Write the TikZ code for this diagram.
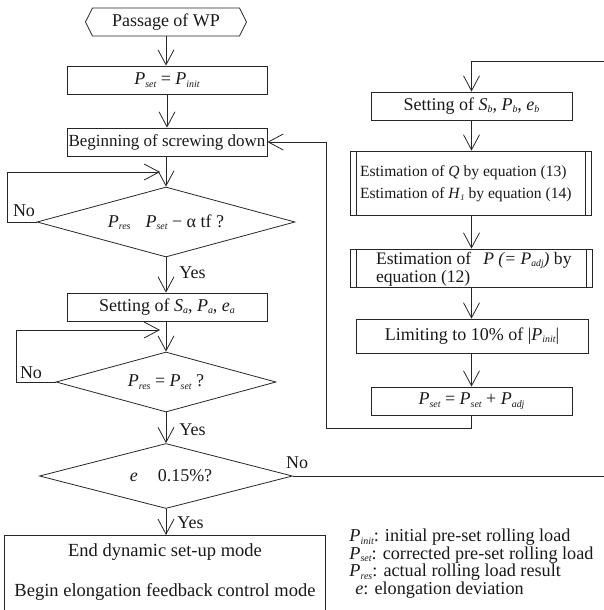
\documentclass[tikz,border=0pt]{standalone}
\usepackage{fontspec}
\setmainfont{Liberation Serif}
\usetikzlibrary{arrows.meta,shapes.geometric,shapes.symbols,calc}
\newcommand{\sbs}[1]{\raisebox{-0.3ex}{\scalebox{0.55}{\itshape #1}}}
\newcommand{\PP}[1]{\textit{P}\sbs{#1}}
\begin{document}
\begin{tikzpicture}[x=1pt,y=-1pt,
  line width=0.8pt, draw=black!85,
  every node/.style={font=\fontsize{18}{20}\selectfont, inner sep=0pt, text=black!90},
  proc/.style={draw=black!85, rectangle, line width=0.8pt},
  dec/.style={draw=black!85, diamond, line width=0.8pt},
  arr/.style={-{Straight Barb[length=15pt,width=16pt]}},
  small/.style={font=\fontsize{15.6}{22}\selectfont},
  legline/.style={anchor=base west, font=\fontsize{18.2}{18}\selectfont, text height=12.5pt, text depth=3.5pt}]
\useasboundingbox (0,0) rectangle (604,610);

% left column
\node[draw=black!85, signal, signal to=west and east, signal pointer angle=127,
      minimum width=161pt, minimum height=28pt] (h) at (166,22) {Passage of WP};
\node[proc, minimum width=200pt, minimum height=28pt] (pi) at (167,80) {\PP{set} = \PP{init}};
\node[proc, minimum width=200pt, minimum height=28pt, font=\fontsize{17}{20}\selectfont] (bg) at (167,142) {Beginning of screwing down};
\node[dec, minimum width=258pt, minimum height=70pt] (d1) at (166,222) {};
\node (t1) at (166,222) {\PP{res}\hspace{15pt}\PP{set} − α tf ?};
\node[proc, minimum width=200pt, minimum height=28pt] (sa) at (167,307) {Setting of \textit{S}\sbs{a}, \textit{P}\sbs{a}, \textit{e}\sbs{a}};
\node[dec, minimum width=220pt, minimum height=60pt] (d2) at (166,382) {};
\node (t2) at (166,382) {\PP{res} = \PP{set} ?};
\node[dec, minimum width=253pt, minimum height=65pt] (d3) at (166,476) {};
\node (t3) at (171,476) {\textit{e}\hspace{20pt}0.15\%?};
\node[proc, minimum width=321pt, minimum height=80pt, anchor=north] (en) at (164.5,535) {};
\node[font=\fontsize{18.5}{20}\selectfont] (en1) at (165,552) {End dynamic set-up mode};
\node[font=\fontsize{18.5}{20}\selectfont] (en2) at (165,592) {Begin elongation feedback control mode};

% right column
\node[proc, minimum width=201pt, minimum height=28pt] (sb) at (471.5,106) {Setting of \textit{S}\sbs{b}, \textit{P}\sbs{b}, \textit{e}\sbs{b}};
\node[proc, minimum width=241pt, minimum height=64pt] (e1) at (470.5,183) {};
\node[small, anchor=west, align=left] (e1t) at ($(e1.west)+(10,1)$) {Estimation of \textit{Q} by equation (13)\\Estimation of \textit{H}\sbs{1} by equation (14)};
\node[proc, minimum width=242pt, minimum height=38pt] (e2) at (471,268) {};
\node[anchor=west, align=left, font=\fontsize{17.6}{18}\selectfont] (e2t) at ($(e2.west)+(26,1)$) {Estimation of\hspace{12pt}\textit{P (= P}\sbs{adj}\textit{)} by\\equation (12)};
\node[proc, minimum width=232pt, minimum height=34pt] (lim) at (472,336) {Limiting to 10\% of |\PP{init}|};
\node[proc, minimum width=201pt, minimum height=28pt] (ps) at (471.5,401) {\PP{set} = \PP{set} + \PP{adj}};

% double bars
\foreach \n in {e1,e2}{
  \draw ([xshift=7pt]\n.north west) -- ([xshift=7pt]\n.south west);
  \draw ([xshift=-6pt]\n.north east) -- ([xshift=-6pt]\n.south east);
}

% connectors
\draw[arr] (h.south) -- (h.south |- pi.north);
\draw[arr] (pi.south) -- (pi.south |- bg.north);
\draw[arr] (bg.south -| d1.north) -- (d1.north);
\draw[arr] (d1.south) -- (d1.south |- sa.north);
\draw[arr] (d1.south |- sa.south) -- (d2.north);
\draw[arr] (d2.south) -- (d3.north);
\draw[arr] (d3.south) -- (d3.south |- en.north);

\coordinate (n1a) at (7,222);
\coordinate (n1b) at (7,172);
\coordinate (n1c) at (160,172);
\draw[arr] (d1.west) -- (n1a) -- (n1b) -- (n1c);
\coordinate (n2a) at (16,382);
\coordinate (n2b) at (16,330);
\coordinate (n2c) at (160,330);
\draw[arr] (d2.west) -- (n2a) -- (n2b) -- (n2c);

\coordinate (c1) at (606,476);
\coordinate (c2) at (606,61);
\draw[arr] (d3.east) -- (c1) -- (c2) -| (sb.north);

\draw[arr] (sb.south) -- (sb.south |- e1.north);
\draw[arr] (sb.south |- e1.south) -- (sb.south |- e2.north);
\draw[arr] (sb.south |- e2.south) -- (sb.south |- lim.north);
\draw[arr] (sb.south |- lim.south) -- (sb.south |- ps.north);

\coordinate (r1) at (326,428);
\draw[arr] (ps.south) |- (r1) |- (bg.east);

% labels
\node (no1) at (24,211) {No};
\node (no2) at (31,373) {No};
\node (no3) at (297,463) {No};
\node[anchor=west] (y1) at (179,273) {Yes};
\node[anchor=west] (y2) at (179,430) {Yes};
\node[anchor=west] (y3) at (177,523) {Yes};

% legend
\node[legline] (lg1) at (349,541.5) {\PP{init}: initial pre-set rolling load};
\node[legline] (lg2) at (349,559.2) {\PP{set}: corrected pre-set rolling load};
\node[legline] (lg3) at (349,576.9) {\PP{res}: actual rolling load result};
\node[legline] (lg4) at (355,594.6) {\textit{e}: elongation deviation};
\end{tikzpicture}
\end{document}
